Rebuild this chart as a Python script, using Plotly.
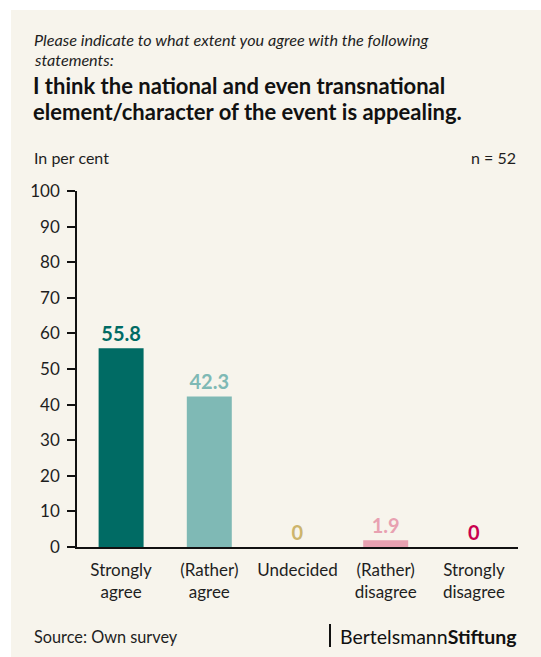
import plotly.graph_objects as go

categories = ["Strongly<br>agree", "(Rather)<br>agree", "Undecided", "(Rather)<br>disagree", "Strongly<br>disagree"]
values = [55.8, 42.3, 0, 1.9, 0]
labels = ["55.8", "42.3", "0", "1.9", "0"]
bar_colors = ["#006b64", "#7fb9b5", "#cdb56c", "#e8a1b1", "#c9004f"]
y_ticks = [0, 10, 20, 30, 40, 50, 60, 70, 80, 90, 100]

W, H = 541, 657
L, R, T, B = 77, 518, 191, 547
pw, ph = R - L, B - T

def px(x):
    return (x - L) / pw

def py(y):
    return (B - y) / ph

FONT = "Lato"
INK = "#1e1e1e"

fig = go.Figure()
fig.add_trace(go.Bar(
    x=categories, y=values,
    marker=dict(color=bar_colors, line=dict(width=0)),
    text=labels, texttemplate="<b>%{text}</b>", textposition="outside",
    textfont=dict(family=FONT, size=20, color=bar_colors),
    cliponaxis=False, hoverinfo="skip",
))

annotations = [
    dict(x=px(32), y=py(40), text="<i>Please indicate to what extent you agree with the following</i>",
         xanchor="left", yanchor="middle", font=dict(family=FONT, size=16.2, color=INK)),
    dict(x=px(32), y=py(59), text="<i>statements:</i>",
         xanchor="left", yanchor="middle", font=dict(family=FONT, size=16.2, color=INK)),
    dict(x=px(31), y=py(85), text="<b>I think the national and even transnational</b>",
         xanchor="left", yanchor="middle", font=dict(family=FONT, size=22, color="#111111")),
    dict(x=px(31), y=py(112), text="<b>element/character of the event is appealing.</b>",
         xanchor="left", yanchor="middle", font=dict(family=FONT, size=22, color="#111111")),
    dict(x=px(32), y=py(158), text="In per cent",
         xanchor="left", yanchor="middle", font=dict(family=FONT, size=16, color=INK)),
    dict(x=px(518), y=py(158), text="n = 52",
         xanchor="right", yanchor="middle", font=dict(family=FONT, size=16, color=INK)),
    dict(x=px(32), y=py(636), text="Source: Own survey",
         xanchor="left", yanchor="middle", font=dict(family=FONT, size=16.3, color=INK)),
    dict(x=px(519), y=py(636), text="Bertelsmann<b>Stiftung</b>",
         xanchor="right", yanchor="middle", font=dict(family=FONT, size=19.5, color="#111111")),
]
for a in annotations:
    a.update(xref="paper", yref="paper", showarrow=False)

shapes = [
    dict(type="rect", xref="paper", yref="paper", x0=px(11), x1=px(545), y0=py(662), y1=py(10),
         fillcolor="#f7f4ec", line=dict(width=0), layer="below"),
    dict(type="line", xref="paper", yref="paper", x0=px(330), x1=px(330), y0=py(624), y1=py(647),
         line=dict(color="#111111", width=2)),
]

fig.update_layout(
    width=W, height=H,
    margin=dict(l=L, r=W - R, t=T, b=H - B),
    paper_bgcolor="#ffffff", plot_bgcolor="rgba(0,0,0,0)",
    showlegend=False, bargap=0.49,
    annotations=annotations, shapes=shapes,
    font=dict(family=FONT, color=INK),
    xaxis=dict(showline=True, linecolor="#111111", linewidth=1.5, ticks="", showgrid=False,
               ticklabelstandoff=7,
               tickfont=dict(family=FONT, size=17, color=INK), fixedrange=True),
    yaxis=dict(range=[0, 100], tickvals=y_ticks, showline=True, linecolor="#111111", linewidth=1.5,
               ticks="outside", ticklen=8, tickcolor="#111111", tickwidth=1.5, showgrid=False,
               ticklabelstandoff=4,
               zeroline=False, tickfont=dict(family=FONT, size=17, color=INK), fixedrange=True),
)

fig.write_html("out.html", config={"displayModeBar": False},
               post_script="document.body.style.margin='0';document.body.style.overflow='hidden';")
